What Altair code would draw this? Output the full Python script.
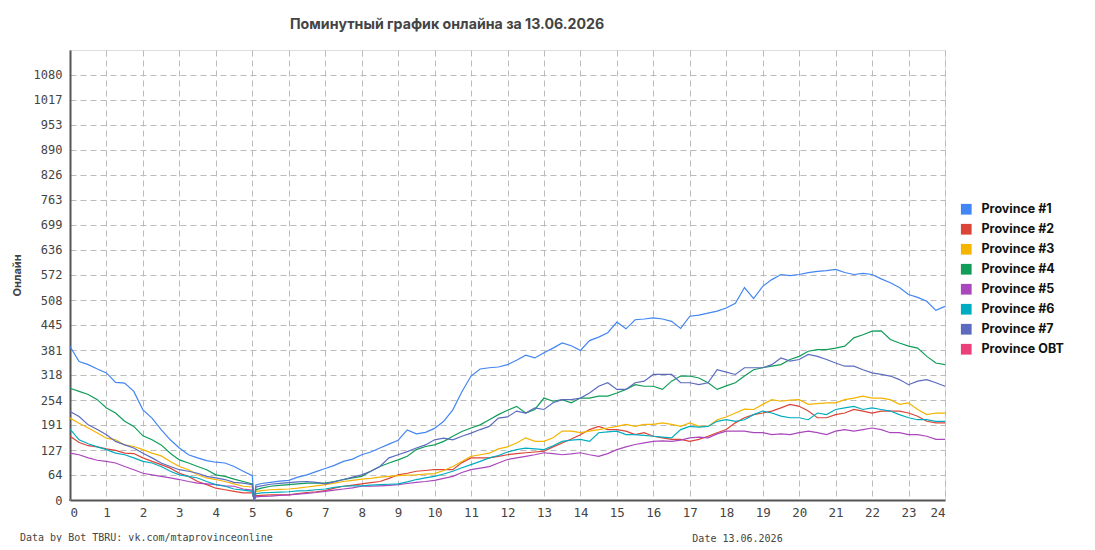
import altair as alt
import pandas as pd

HOURS = [0, 0.25, 0.5, 0.75, 1, 1.25, 1.5, 1.75, 2, 2.25, 2.5, 2.75, 3, 3.25, 3.5, 3.75,
         4, 4.25, 4.5, 4.75, 5, 5.05, 5.1, 5.25, 5.5, 5.75, 6, 6.25, 6.5, 6.75, 7, 7.25,
         7.5, 7.75, 8, 8.25, 8.5, 8.75, 9, 9.25, 9.5, 9.75, 10, 10.25, 10.5, 10.75, 11,
         11.25, 11.5, 11.75, 12, 12.25, 12.5, 12.75, 13, 13.25, 13.5, 13.75, 14, 14.25,
         14.5, 14.75, 15, 15.25, 15.5, 15.75, 16, 16.25, 16.5, 16.75, 17, 17.25, 17.5,
         17.75, 18, 18.25, 18.5, 18.75, 19, 19.25, 19.5, 19.75, 20, 20.25, 20.5, 20.75,
         21, 21.25, 21.5, 21.75, 22, 22.25, 22.5, 22.75, 23, 23.25, 23.5, 23.75, 24]

P1 = [390, 352, 344, 333, 323, 299, 297, 276, 229, 208, 179, 153, 132, 115, 107, 100,
      96, 94, 85, 73, 62, 0, 38, 42, 45, 48, 50, 58, 64, 72, 80, 88,
      98, 104, 115, 122, 132, 142, 152, 178, 168, 172, 182, 200, 229, 275, 315,
      333, 336, 338, 344, 355, 368, 361, 374, 386, 399, 392, 380, 405,
      414, 425, 452, 435, 458, 460, 463, 460, 454, 436, 467, 470, 475,
      480, 488, 500, 540, 512, 543, 560, 573, 570, 573, 578, 581, 583,
      586, 578, 573, 576, 573, 562, 552, 540, 522, 515, 505, 482, 492]

P2 = [162, 146, 138, 135, 130, 126, 119, 118, 107, 98, 90, 81, 68, 60, 47, 39,
      30, 26, 22, 18, 18, 0, 11, 12, 13, 13, 13, 16, 19, 21, 24, 30,
      35, 38, 41, 44, 47, 55, 64, 68, 73, 75, 77, 77, 77, 95, 107,
      107, 107, 111, 115, 118, 120, 122, 124, 135, 145, 155, 166, 179,
      187, 179, 179, 175, 166, 171, 162, 158, 154, 154, 149, 154, 162,
      171, 179, 196, 209, 217, 221, 226, 234, 243, 238, 226, 209, 209,
      217, 221, 230, 226, 221, 226, 226, 226, 221, 213, 200, 196, 196]

P3 = [208, 195, 183, 170, 157, 153, 140, 136, 128, 119, 112, 98, 85, 77, 64, 56,
      52, 47, 41, 35, 33, 0, 22, 24, 26, 27, 28, 30, 33, 36, 39, 43,
      47, 50, 53, 55, 58, 60, 62, 63, 64, 66, 67, 75, 85, 98, 111,
      115, 119, 130, 135, 145, 158, 149, 149, 158, 175, 175, 171, 175,
      179, 183, 187, 192, 187, 192, 192, 196, 192, 187, 196, 187, 187,
      204, 211, 221, 231, 230, 243, 255, 251, 254, 255, 243, 245, 247,
      247, 255, 259, 264, 259, 259, 255, 243, 247, 230, 217, 221, 221]

P4 = [284, 276, 268, 255, 234, 221, 200, 187, 163, 153, 140, 119, 102, 94, 85, 77,
      64, 60, 53, 47, 41, 0, 26, 30, 35, 37, 39, 41, 43, 43, 43, 47,
      52, 56, 60, 73, 85, 94, 102, 111, 128, 136, 140, 149, 162, 174, 183,
      191, 204, 217, 228, 238, 221, 230, 259, 251, 255, 247, 259, 259,
      264, 264, 272, 281, 293, 289, 289, 281, 302, 315, 315, 310, 298,
      281, 290, 298, 315, 331, 336, 340, 344, 357, 365, 378, 382, 382,
      386, 391, 412, 420, 429, 430, 408, 399, 391, 386, 365, 348, 344]

P5 = [119, 115, 107, 101, 98, 94, 85, 77, 68, 64, 60, 56, 52, 47, 43, 41,
      39, 36, 35, 28, 25, 0, 8, 9, 10, 12, 13, 15, 17, 19, 22, 25,
      28, 31, 35, 35, 36, 37, 39, 42, 45, 47, 50, 55, 60, 70, 77,
      81, 85, 94, 103, 107, 111, 115, 120, 118, 115, 117, 120, 115,
      111, 118, 128, 135, 141, 145, 149, 150, 149, 152, 158, 160, 158,
      168, 175, 175, 175, 171, 171, 166, 168, 166, 171, 175, 171, 166,
      175, 179, 175, 179, 183, 179, 171, 171, 166, 166, 162, 154, 154]

P6 = [180, 153, 143, 135, 128, 119, 115, 107, 98, 94, 85, 73, 64, 60, 56, 47,
      39, 35, 28, 25, 22, 0, 16, 18, 19, 20, 21, 23, 24, 26, 28, 32,
      35, 36, 36, 38, 39, 40, 41, 46, 52, 56, 60, 66, 73, 82, 90,
      98, 107, 113, 122, 128, 132, 130, 128, 138, 149, 152, 154, 149,
      171, 173, 175, 166, 166, 164, 162, 160, 158, 179, 187, 185, 187,
      200, 204, 200, 204, 217, 226, 221, 213, 209, 209, 204, 221, 217,
      230, 234, 238, 230, 234, 230, 226, 217, 209, 204, 204, 200, 200]

P7 = [225, 212, 191, 179, 166, 149, 140, 132, 119, 107, 94, 85, 77, 73, 68, 60,
      56, 52, 45, 43, 39, 0, 33, 36, 40, 42, 44, 46, 47, 45, 41, 46,
      52, 58, 64, 73, 85, 107, 115, 123, 132, 140, 153, 157, 153, 162, 170,
      179, 187, 208, 211, 226, 221, 234, 230, 247, 255, 255, 259, 272,
      289, 298, 281, 281, 298, 302, 319, 319, 319, 298, 298, 293, 298,
      331, 325, 319, 336, 336, 336, 344, 361, 353, 357, 370, 365, 357,
      348, 340, 340, 331, 323, 319, 315, 306, 293, 302, 306, 298, 289]

SERIES = ["Province #1", "Province #2", "Province #3", "Province #4",
          "Province #5", "Province #6", "Province #7", "Province OBT"]
COLORS = ["#4285F4", "#DB4437", "#F4B400", "#0F9D58",
          "#AB47BC", "#00ACC1", "#5C6BC0", "#EC407A"]
Y_TICKS = [0, 64, 127, 191, 254, 318, 381, 445, 508, 572, 636, 699, 763, 826, 890, 953, 1017, 1080]
X_TICKS = list(range(0, 25))

rows = []
for name, vals in zip(SERIES[:7], [P1, P2, P3, P4, P5, P6, P7]):
    for h, v in zip(HOURS, vals):
        rows.append({"hour": h, "online": v, "series": name})
df = pd.DataFrame(rows)

x_enc = alt.X("hour:Q",
              scale=alt.Scale(domain=[0, 24], nice=False, zero=False),
              axis=alt.Axis(values=X_TICKS, ticks=False, labelPadding=6,
                            labelFontSize=12.5, labelFont="DejaVu Sans Mono", labelColor="#444",
                            domainColor="#555", domainWidth=2,
                            gridColor="#bbb", gridDash=[6, 4], gridWidth=1,
                            title="Date 13.06.2026", titleFont="DejaVu Sans Mono",
                            titleFontSize=10, titleFontWeight="normal", titleColor="#444",
                            titleX=667, titleY=41, titleAlign="center",
                            titleBaseline="alphabetic"))
y_enc = alt.Y("online:Q",
              scale=alt.Scale(domain=[0, 1143.5], nice=False),
              axis=alt.Axis(values=Y_TICKS, format="d", ticks=False, labelPadding=8,
                            labelFontSize=12, labelFont="DejaVu Sans Mono", labelColor="#444",
                            domainColor="#555", domainWidth=2,
                            gridColor="#bbb", gridDash=[6, 4], gridWidth=1,
                            title="Онлайн", titleFont="Inter", titleFontSize=11,
                            titleFontWeight="bold", titleColor="#444",
                            titleX=-53, titleY=225, titleAngle=270,
                            titleAlign="center", titleBaseline="middle"))

color_scale = alt.Scale(domain=SERIES, range=COLORS)

lines = alt.Chart(df).mark_line(strokeWidth=1.2, interpolate="linear").encode(
    x=x_enc, y=y_enc,
    color=alt.Color("series:N", scale=color_scale, legend=None),
)

# legend-only layer: one tiny square per series hidden in the plot corner
legend_df = pd.DataFrame({"series": SERIES})
legend_layer = alt.Chart(legend_df).mark_square(opacity=1, filled=True, size=1).encode(
    x=alt.value(0), y=alt.value(450),
    color=alt.Color("series:N", scale=color_scale,
                    legend=alt.Legend(title=None, orient="none", legendX=890, legendY=153,
                                      symbolType="square", symbolSize=115,
                                      symbolStrokeWidth=0, symbolOpacity=1,
                                      labelFont="Inter", labelFontSize=12.5,
                                      labelFontWeight="bold", labelColor="#111",
                                      rowPadding=7, padding=0, labelOffset=9)),
)

footer = alt.Chart(pd.DataFrame({"t": ["Data by Bot TBRU: vk.com/mtaprovinceonline"]})).mark_text(
    align="left", baseline="alphabetic", font="DejaVu Sans Mono", fontSize=10, color="#444"
).encode(x=alt.value(-50), y=alt.value(491), text="t:N")

chart = alt.layer(lines, legend_layer, footer).resolve_legend(color="independent").properties(
    width=875, height=450,
    autosize=alt.AutoSizeParams(type="none"),
    padding={"left": 62, "top": 42, "right": 142, "bottom": 42},
    title=alt.TitleParams("Поминутный график онлайна за 13.06.2026", anchor="start",
                          dx=279, offset=18, font="Inter", fontSize=14.2,
                          fontWeight="bold", color="#444"),
).configure_view(stroke="#555", strokeWidth=1.5).configure(background="white")

chart.save("out.html", embed_options={"renderer": "svg", "actions": False})
